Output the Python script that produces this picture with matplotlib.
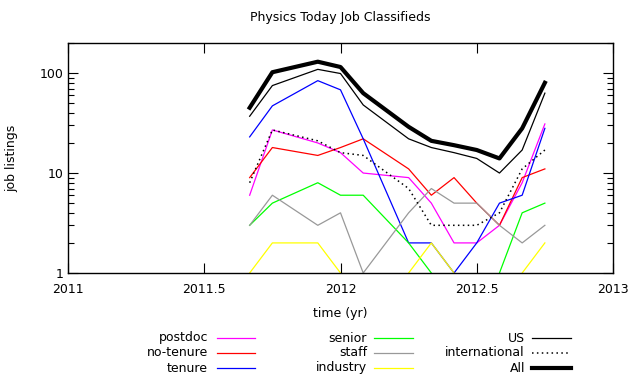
import matplotlib
matplotlib.use("Agg")
import matplotlib.pyplot as plt
from matplotlib.lines import Line2D
from matplotlib.ticker import LogLocator, NullFormatter, FixedLocator

# months of the listings (fractional year)
months = [2011 + 8/12, 2011 + 9/12, 2011 + 11/12, 2012 + 0/12, 2012 + 1/12,
          2012 + 3/12, 2012 + 4/12, 2012 + 5/12, 2012 + 6/12, 2012 + 7/12,
          2012 + 8/12, 2012 + 9/12]

postdoc = [6, 27, 20, 16, 10, 9, 5, 2, 2, 3, 8, 31]
no_tenure = [9, 18, 15, 18, 22, 11, 6, 9, 5, 3, 9, 11]
tenure = [23, 47, 84, 68, 22, 2, 2, 1, 2, 5, 6, 28]
senior = [3, 5, 8, 6, 6, 2, 1, 0, 0, 1, 4, 5]
staff = [3, 6, 3, 4, 1, 4, 7, 5, 5, 3, 2, 3]
industry = [1, 2, 2, 1, 0, 1, 2, 1, 0, 0, 1, 2]
us = [37, 75, 109, 99, 48, 22, 18, 16, 14, 10, 17, 63]
international = [8, 27, 21, 16, 15, 7, 3, 3, 3, 4, 11, 17]
all_jobs = [45, 102, 130, 115, 63, 29, 21, 19, 17, 14, 28, 80]

series = [
    ("postdoc", postdoc, dict(color="#ff00ff", lw=0.9)),
    ("no-tenure", no_tenure, dict(color="#ff0000", lw=0.9)),
    ("tenure", tenure, dict(color="#0000ff", lw=0.9)),
    ("senior", senior, dict(color="#00ff00", lw=0.9)),
    ("staff", staff, dict(color="#999999", lw=0.9)),
    ("industry", industry, dict(color="#ffff00", lw=0.9)),
    ("US", us, dict(color="black", lw=0.9)),
    ("international", international, dict(color="black", lw=1.1, ls=(0, (1, 2.2)))),
    ("All", all_jobs, dict(color="black", lw=3)),
]

W, H = 635, 380
fig = plt.figure(figsize=(W / 100, H / 100), dpi=100)
ax = fig.add_axes([68 / W, 1 - 273 / H, (613 - 68) / W, (273 - 43) / H])

for name, vals, st in series:
    ax.plot(months, vals, **st)

ax.set_yscale("log", nonpositive="clip")
ax.set_ylim(1, 200)
ax.set_xlim(2011, 2013)
ax.xaxis.set_major_locator(FixedLocator([2011, 2011.5, 2012, 2012.5, 2013]))
ax.set_xticklabels(["2011", "2011.5", "2012", "2012.5", "2013"])
ax.yaxis.set_major_locator(FixedLocator([1, 10, 100]))
ax.set_yticklabels(["1", "10", "100"])
ax.yaxis.set_minor_locator(LogLocator(base=10, subs=range(2, 10)))
ax.yaxis.set_minor_formatter(NullFormatter())
ax.tick_params(which="both", direction="in", top=True, right=True, labelsize=9)
ax.tick_params(which="major", length=7, width=0.8)
ax.tick_params(which="minor", length=4, width=0.8)
ax.tick_params(axis="x", pad=7)
for s in ax.spines.values():
    s.set_linewidth(1)

ax.set_xlabel("time (yr)", fontsize=9, labelpad=8)
ax.set_ylabel("job listings", fontsize=9, labelpad=15)
fig.text(340 / W, 1 - 18 / H, "Physics Today Job Classifieds", ha="center", va="center", fontsize=9)

# legend in three columns, labels right-aligned before the sample line
cols = [(208, 217, 255), (367, 374, 413), (525, 532, 571)]
rows = [338, 353, 368]
for k, (name, vals, st) in enumerate(series):
    tx, x0, x1 = cols[k // 3]
    y = 1 - rows[k % 3] / H
    fig.text(tx / W, y, name, ha="right", va="center", fontsize=9)
    fig.add_artist(Line2D([x0 / W, x1 / W], [y, y], **st))

fig.savefig("out.png", dpi=100)
